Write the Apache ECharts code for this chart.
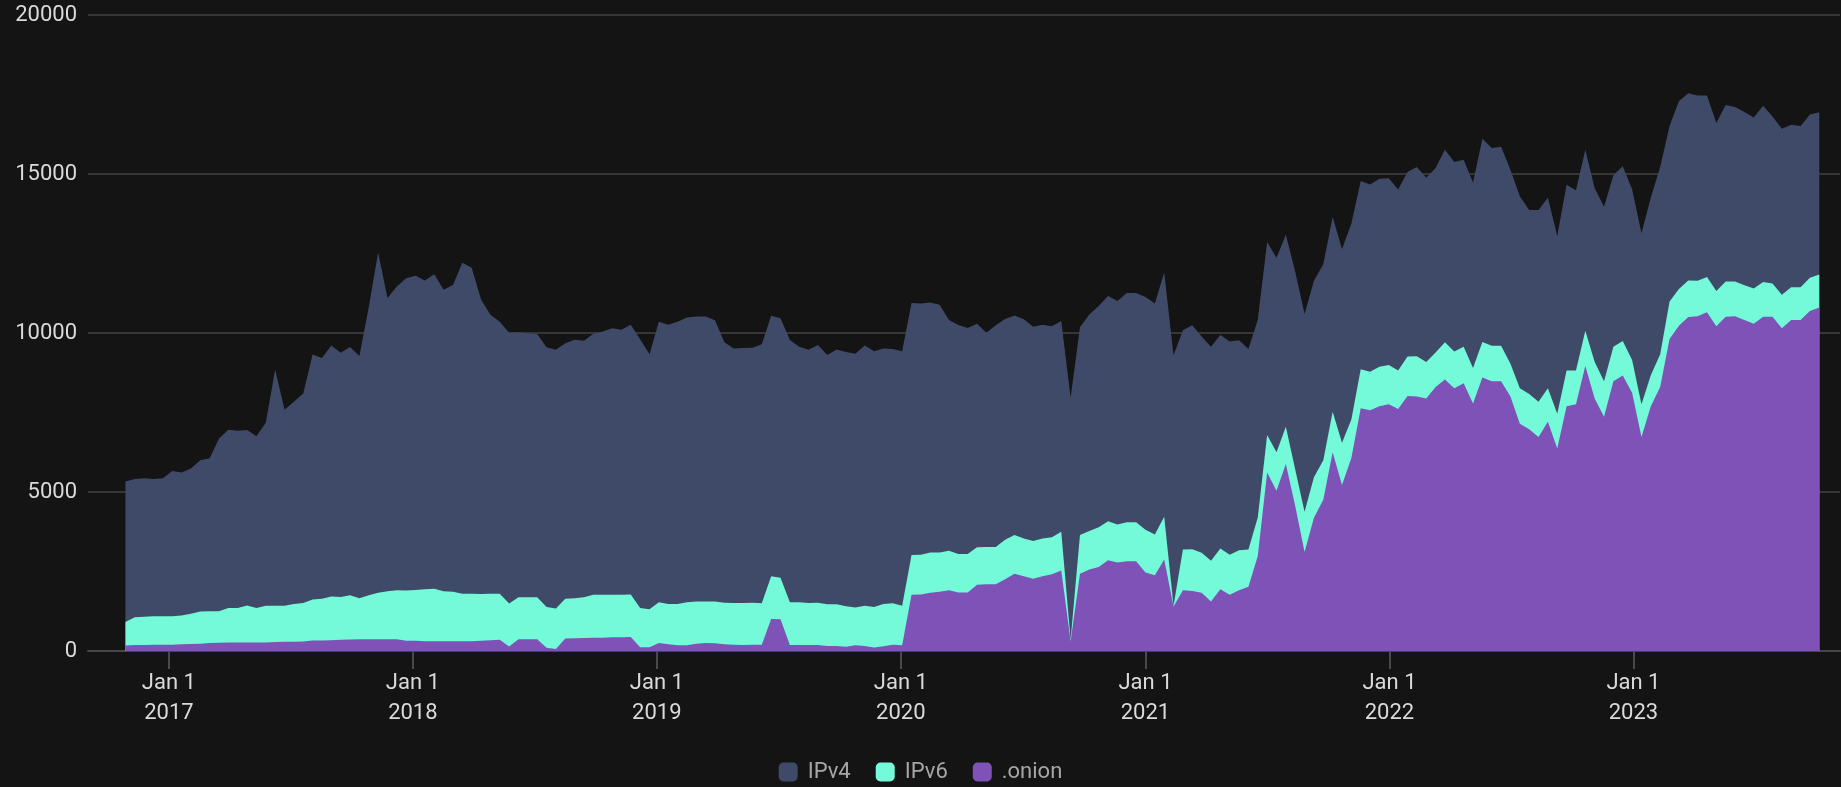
<!DOCTYPE html>
<html><head><meta charset="utf-8">
<script src="https://cdn.jsdelivr.net/npm/echarts@6/dist/echarts.min.js"></script>
<style>html,body{margin:0;padding:0;background:#141414;}#c{width:1841px;height:787px;}</style>
</head><body><div id="c"></div>
<script>
// sampling: one point every 14 days starting here
const startDate = '2016-10-28';
const stepDays = 14;
const seriesNames = ['IPv4', 'IPv6', '.onion'];
const yearTicks = ['2017-01-01','2018-01-01','2019-01-01','2020-01-01','2021-01-01','2022-01-01','2023-01-01'];
const monthNames = ['Jan','Feb','Mar','Apr','May','Jun','Jul','Aug','Sep','Oct','Nov','Dec'];

const ipv4 = [
4420,4350,4350,4320,4340,4570,4490,4570,4760,4810,
5430,5610,5580,5520,5400,5760,7430,6170,6360,6590,
7700,7570,7900,7680,7810,7620,9060,10700,9220,9550,
9820,9880,9710,9890,9480,9650,10410,10250,9260,8770,
8550,8520,8330,8300,8280,8170,8130,8040,8130,8070,
8210,8280,8380,8330,8480,8450,8020,8820,8780,8870,
8960,8960,8960,8840,8190,8000,8020,8020,8150,8190,
8160,8250,8040,7960,8100,7840,8010,7990,7980,8190,
8050,8030,8000,8010,7920,7900,7860,7790,7260,7200,
7110,7030,6740,6970,6940,6900,6890,6740,6720,6630,
6630,7610,6530,6810,6960,7080,7030,7210,7210,7320,
7270,7680,7880,6900,7040,6800,6730,6720,6700,6600,
6310,6220,6070,6120,6040,6220,6220,6180,6160,6130,
6090,6160,5920,5890,5910,5880,5690,5800,5950,5790,
5800,6050,5960,5880,5830,6390,6220,6260,6100,6040,
5790,6030,5990,5590,5840,5670,5690,5460,5490,5390,
5490,5370,5380,5590,5890,5520,5910,5890,5830,5710,
5280,5550,5490,5450,5380,5550,5250,5220,5110,5070,
5130,5100];

const ipv6 = [
740,870,890,890,890,890,910,950,1010,1000,
990,1080,1080,1160,1080,1150,1140,1130,1190,1210,
1290,1310,1370,1350,1390,1290,1380,1460,1510,1540,
1580,1600,1630,1650,1570,1550,1490,1490,1470,1460,
1450,1350,1320,1320,1320,1280,1280,1250,1260,1280,
1350,1350,1340,1340,1340,1230,1190,1280,1270,1300,
1350,1330,1310,1320,1310,1310,1320,1320,1300,1340,
1300,1340,1340,1320,1330,1310,1310,1280,1190,1260,
1270,1330,1300,1240,1250,1250,1270,1240,1240,1210,
1210,1180,1170,1170,1240,1220,1190,1190,1190,1170,
1220,40,1220,1210,1250,1230,1200,1230,1230,1340,
1280,1340,20,1280,1310,1260,1280,1280,1260,1260,
1170,1210,1180,1210,1170,1150,1270,1270,1240,1270,
1330,1210,1230,1210,1240,1230,1210,1240,1270,1150,
1090,1170,1160,1150,1120,1120,1120,1120,1030,1110,
1110,1110,1050,1090,1120,1060,1110,1150,1110,1090,
1090,1030,1030,970,1030,1180,1150,1150,1110,1110,
1110,1110,1090,1090,1110,1090,1050,1050,1030,1030,
1050,1040];

const onion = [
170,190,190,200,200,200,210,220,230,250,
260,270,270,270,270,270,280,290,290,300,
330,330,340,350,360,370,370,370,370,370,
320,320,310,310,310,310,310,310,320,340,
350,140,370,370,370,100,60,390,400,410,
420,420,430,430,440,120,120,250,210,180,
180,230,250,240,210,200,190,200,200,1010,
1000,190,190,190,190,160,160,130,180,160,
110,150,200,180,1770,1780,1830,1860,1910,1840,
1840,2080,2100,2100,2260,2430,2350,2270,2350,2410,
2530,310,2430,2560,2640,2850,2780,2820,2820,2470,
2380,2880,1400,1910,1890,1830,1560,1940,1770,1910,
2020,2990,5610,5040,5880,4560,3110,4190,4760,6250,
5220,6070,7630,7570,7700,7760,7610,8020,8000,7940,
8300,8540,8260,8420,7780,8600,8480,8480,8000,7150,
6970,6730,7210,6370,7700,7760,8960,7940,7370,8480,
8660,8120,6730,7700,8300,9810,10230,10500,10530,10650,
10210,10510,10530,10410,10290,10510,10510,10150,10410,10410,
10690,10800];

const colors = {IPv4: '#3e4a68', IPv6: '#74fad8', '.onion': '#7e52b7'};
const DAY = 86400000;
const t0 = Date.parse(startDate + 'T00:00:00Z');
const times = onion.map((_, i) => t0 + i * stepDays * DAY);
const tickTimes = yearTicks.map(s => Date.parse(s + 'T00:00:00Z'));

// stacked boundaries (bottom to top: .onion, IPv6, IPv4)
const layers = {'.onion': onion, 'IPv6': ipv6, 'IPv4': ipv4};
const stackOrder = ['.onion', 'IPv6', 'IPv4'];
const cumulative = {};
let running = onion.map(() => 0);
stackOrder.forEach(n => { running = running.map((s, i) => s + layers[n][i]); cumulative[n] = running.slice(); });

const font = 'Roboto, "Noto Sans", sans-serif';
const chart = echarts.init(document.getElementById('c'), null, {renderer: 'canvas'});

function areaSeries(name, z) {
  return {
    name: name, type: 'line', data: cumulative[name].map((v, i) => [times[i], v]),
    symbol: 'none', showSymbol: false, smooth: false, z: z,
    lineStyle: {width: 0, color: colors[name]},
    itemStyle: {color: colors[name]},
    areaStyle: {color: colors[name], opacity: 1, origin: 'start'},
    emphasis: {disabled: true}, silent: true
  };
}

chart.setOption({
  backgroundColor: '#141414',
  animation: false,
  grid: {left: 88, right: 1, top: 15, bottom: 136, containLabel: false},
  legend: {
    data: seriesNames, bottom: 4, left: 'center', icon: 'roundRect',
    itemWidth: 19, itemHeight: 19, itemGap: 25, padding: 0,
    textStyle: {color: '#a6a6a6', fontSize: 22, fontFamily: font, padding: [0, 0, 0, 5]}
  },
  xAxis: {
    type: 'value',
    min: Date.UTC(2016, 8, 2), max: Date.UTC(2023, 10, 6),
    axisLine: {show: true, lineStyle: {color: '#474747', width: 2}},
    axisTick: {show: true, length: 18, customValues: tickTimes, lineStyle: {color: '#4a4a4a', width: 2}},
    splitLine: {show: false},
    axisLabel: {
      customValues: tickTimes, color: '#dadada', fontSize: 22, fontFamily: font,
      lineHeight: 30, margin: 17,
      formatter: v => { const d = new Date(v); return monthNames[d.getUTCMonth()] + ' ' + d.getUTCDate() + '\n' + d.getUTCFullYear(); }
    }
  },
  yAxis: {
    type: 'value', min: 0, max: 20000, interval: 5000,
    axisLine: {show: false}, axisTick: {show: false},
    splitLine: {lineStyle: {color: '#363636', width: 2}},
    axisLabel: {color: '#dadada', fontSize: 22, fontFamily: font, margin: 11, formatter: v => String(v)}
  },
  series: [
    areaSeries('IPv4', 1),
    areaSeries('IPv6', 2),
    areaSeries('.onion', 3)
  ]
});
</script>
</body></html>
